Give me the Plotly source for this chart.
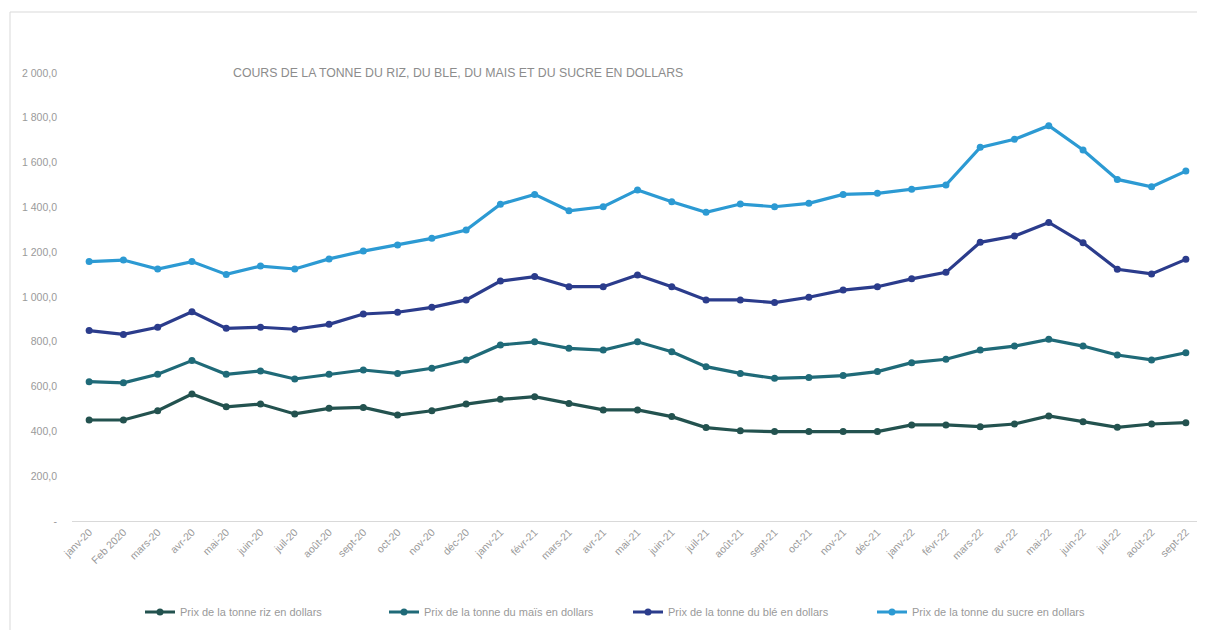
import plotly.graph_objects as go

months = ["janv-20", "Feb 2020", "mars-20", "avr-20", "mai-20", "juin-20", "juil-20", "août-20",
          "sept-20", "oct-20", "nov-20", "déc-20", "janv-21", "févr-21", "mars-21", "avr-21",
          "mai-21", "juin-21", "juil-21", "août-21", "sept-21", "oct-21", "nov-21", "déc-21",
          "janv-22", "févr-22", "mars-22", "avr-22", "mai-22", "juin-22", "juil-22", "août-22", "sept-22"]

riz = [451, 451, 492, 567, 510, 522, 478, 503, 507, 473, 492, 522, 543, 555, 525, 496,
       496, 466, 417, 403, 399, 399, 399, 399, 429, 429, 421, 433, 469, 443, 418, 433, 439]
mais = [622, 617, 655, 716, 655, 670, 634, 655, 674, 659, 682, 719, 786, 800, 771, 763,
        800, 756, 689, 659, 637, 641, 649, 667, 707, 722, 763, 781, 811, 781, 741, 719, 751]
ble = [850, 833, 865, 934, 860, 865, 856, 878, 924, 932, 954, 987, 1071, 1091, 1046, 1046,
       1098, 1046, 987, 987, 975, 999, 1031, 1046, 1081, 1110, 1244, 1272, 1333, 1242, 1124, 1103, 1168]
sucre = [1158, 1165, 1125, 1158, 1101, 1138, 1125, 1170, 1205, 1232, 1262, 1299, 1414, 1458, 1385, 1403,
         1478, 1425, 1378, 1415, 1403, 1418, 1458, 1463, 1481, 1500, 1668, 1704, 1765, 1656, 1525, 1492, 1562]

series_names = ["Prix de la tonne riz en dollars",
                "Prix de la tonne du maïs en dollars",
                "Prix de la tonne du blé en dollars",
                "Prix de la tonne du sucre en dollars"]
colors = ["#23524F", "#1F6A78", "#2B3C8C", "#2C9AD3"]

y_ticks = [0, 200, 400, 600, 800, 1000, 1200, 1400, 1600, 1800, 2000]
y_ticktext = ["-", "200,0", "400,0", "600,0", "800,0", "1 000,0", "1 200,0",
              "1 400,0", "1 600,0", "1 800,0", "2 000,0"]

W, H = 1197, 622
L, R, T, B = 64, 2, 65, 109
PW, PH = W - L - R, H - T - B
TXT = "#9a9a9a"

fig = go.Figure()
for name, vals, col in zip(series_names, [riz, mais, ble, sucre], colors):
    fig.add_trace(go.Scatter(
        x=months, y=vals, name=name, mode="lines+markers",
        line=dict(color=col, width=3.2),
        marker=dict(color=col, size=7, symbol="circle"),
    ))

fig.update_layout(
    width=W, height=H,
    margin=dict(l=L, r=R, t=T, b=B, autoexpand=False),
    paper_bgcolor="white", plot_bgcolor="white",
    font=dict(family="Liberation Sans, Arial, sans-serif", color=TXT, size=10),
    showlegend=True,
    legend=dict(orientation="h", x=(132 - L) / PW, xanchor="left", y=-(604 - (T + PH)) / PH,
                yanchor="middle", font=dict(size=11, color=TXT),
                entrywidth=199, entrywidthmode="pixels", itemwidth=30, tracegroupgap=0),
    annotations=[dict(text="COURS DE LA TONNE DU RIZ, DU BLE, DU MAIS ET DU SUCRE EN DOLLARS",
                      xref="paper", yref="paper", x=(223 - L) / PW, y=1.0,
                      xanchor="left", yanchor="middle", showarrow=False,
                      font=dict(size=12.3, color="#8c8c8c",
                                family="Liberation Sans, Arial, sans-serif"))],
    shapes=[dict(type="rect", xref="paper", yref="paper",
                 x0=(2 - L) / PW, x1=(W + 20 - L) / PW,
                 y0=-(H + 20 - (T + PH)) / PH, y1=(T + PH - 4) / PH,
                 line=dict(color="#d9d9d9", width=1), fillcolor="rgba(0,0,0,0)", layer="below")],
)
fig.update_xaxes(type="category", range=[-0.5, len(months) - 0.5], tickangle=-45,
                 showgrid=False, showline=True, automargin=False,
                 linecolor="#d9d9d9", linewidth=1, ticks="", tickfont=dict(size=10.5, color=TXT))
fig.update_yaxes(range=[0, 2000], tickvals=y_ticks, ticktext=y_ticktext, showgrid=False,
                 zeroline=False, showline=False, ticks="", ticklabelstandoff=14, automargin=False,
                 tickfont=dict(size=10.5, color=TXT))

fig.write_html("out.html")
